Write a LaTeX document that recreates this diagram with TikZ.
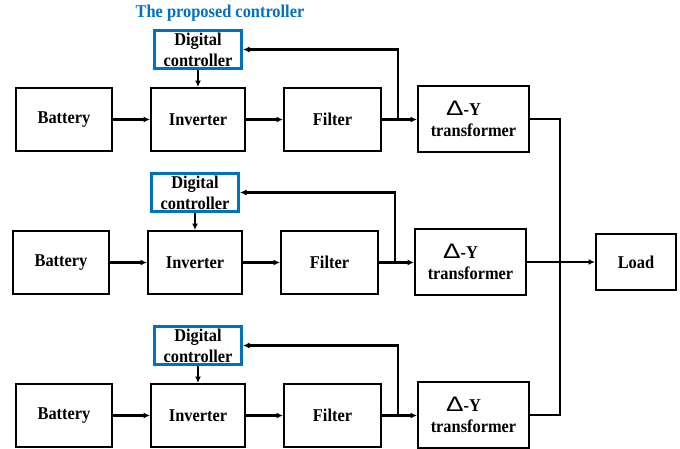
\documentclass[tikz,border=0pt]{standalone}
\usepackage{fontspec}
\setmainfont[FakeStretch=0.91]{Liberation Serif}
\newfontfamily\deltafont[FakeStretch=1.25]{Liberation Sans}
\usetikzlibrary{arrows.meta,calc}
\definecolor{ctlblue}{RGB}{0,112,192}
\begin{document}
\begin{tikzpicture}[x=1pt,y=-1pt,
  blk/.style={draw=black,line width=2.4pt,inner sep=0pt,font=\fontsize{18}{21}\selectfont\bfseries,align=center},
  ctlbox/.style={blk,draw=ctlblue,line width=2.8pt,minimum width=87.2pt,minimum height=38.2pt},
  arr/.style={line width=2.1pt,-{Latex[length=6.5pt,width=6pt]}},
  ln/.style={line width=2.1pt}]
\useasboundingbox (0,0) rectangle (680,448);
\node[font=\fontsize{18}{20}\selectfont\bfseries,text=ctlblue] (title) at (220,13) {The proposed controller};
\foreach \r/\dx/\dy in {1/0/0,2/-3/143,3/0/296}{
  \begin{scope}[shift={(\dx,\dy)}]
    \node[blk,minimum width=95.6pt,minimum height=62.6pt] (bat\r) at (64,119.5) {Battery};
    \node[blk,minimum width=93.6pt,minimum height=62.6pt] (inv\r) at (198,119.5) {Inverter};
    \node[blk,minimum width=96.6pt,minimum height=62.6pt] (fil\r) at (332.5,119.5) {Filter};
    \node[blk,minimum width=110.6pt,minimum height=65.6pt] (trf\r) at (473.5,119) {{\deltafont\mdseries\fontsize{21}{21}\selectfont Δ}-Y\hspace*{20pt}\\transformer};
    \node[ctlbox] (ctl\r) at (198,49.5) {Digital\\controller};
    \coordinate (fb\r) at (398,0);
  \end{scope}
  \draw[arr] (bat\r.east) -- (inv\r.west);
  \draw[arr] (inv\r.east) -- (fil\r.west);
  \draw[arr] (fil\r.east) -- (fil\r.east -| trf\r.west);
  \draw[arr] (fil\r.east -| fb\r) |- (ctl\r.east);
  \draw[arr] (ctl\r.south) -- (inv\r.north);
}
\node[blk,minimum width=79.6pt,minimum height=55.6pt] (load) at (636,262) {Load};
\coordinate (bus) at (560,0);
\draw[ln] (trf1.east) -- (trf1.east -| bus) -- (trf3.east -| bus) -- (trf3.east);
\draw[arr] (trf2.east) -- (load.west);
\end{tikzpicture}
\end{document}
